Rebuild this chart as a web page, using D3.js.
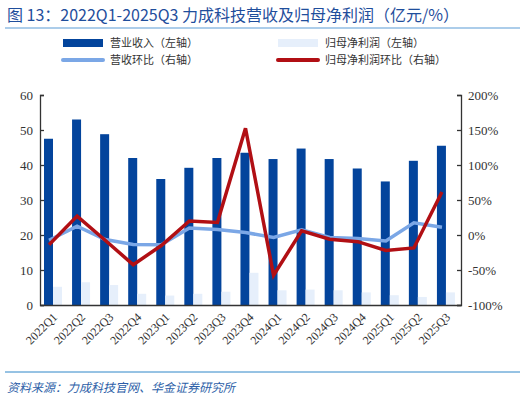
<!DOCTYPE html><html><head><meta charset="utf-8"><script src="https://cdn.jsdelivr.net/npm/d3@7"></script>
<style>body{margin:0;background:#fff}</style></head><body><svg id="c" width="526" height="401"></svg>
<script>
const categories=["2022Q1","2022Q2","2022Q3","2022Q4","2023Q1","2023Q2","2023Q3","2023Q4","2024Q1","2024Q2","2024Q3","2024Q4","2025Q1","2025Q2","2025Q3"];
const revenue=[47.5,53,48.8,42,36,39.2,42,43.5,41.7,44.7,41.7,39,35.3,41.2,45.5];
const profit=[5.2,6.5,5.7,3.2,2.7,3.2,3.8,9.2,4.2,4.4,4.2,3.6,2.8,2.3,3.6];
const revQoQ=[-7.5,12.5,-6.5,-13.5,-14,10,8,3.5,-3.5,7.5,-3.5,-5,-8.5,17.5,11];
const profitQoQ=[-14,27,-7.5,-42.5,-15,20,18,152.5,-57.5,6,-6,-9.5,-22,-18.5,61.5];
const leftTicks=[0,10,20,30,40,50,60];
const rightTicks=[-100,-50,0,50,100,150,200];
const svg=d3.select("#c");
const L=40,R=461,T=95,B=305;
const x=d3.scaleBand().domain(categories).range([L,R]);
const yl=d3.scaleLinear().domain([0,60]).range([B,T]);
const yr=d3.scaleLinear().domain([-100,200]).range([B,T]);
const cn="'Noto Sans CJK SC',sans-serif", serif="'Liberation Serif',serif";
svg.append("text").attr("x",7).attr("y",21).attr("fill","#1f4e9c").attr("font-family",cn).attr("font-size",16).text("图 13：2022Q1-2025Q3 力成科技营收及归母净利润（亿元/%）");
svg.append("line").attr("x1",5).attr("x2",520).attr("y1",28).attr("y2",28).attr("stroke","#5b9bd5").attr("stroke-width",1.2);
svg.append("line").attr("x1",5).attr("x2",520).attr("y1",372).attr("y2",372).attr("stroke","#2e86c8").attr("stroke-width",1);
svg.append("text").attr("x",7).attr("y",392).attr("fill","#2e5fa8").attr("font-family",cn).attr("font-size",12).attr("font-style","italic").text("资料来源：力成科技官网、华金证券研究所");
const lg=[{t:"营业收入（左轴）",c:"#03449c",type:"r",x:63,y:43},{t:"归母净利润（左轴）",c:"#e6effb",type:"r",x:278,y:43},{t:"营收环比（右轴）",c:"#7ba7e6",type:"l",x:63,y:60},{t:"归母净利润环比（右轴）",c:"#b10f14",type:"l",x:278,y:60}];
lg.forEach(d=>{
 if(d.type=="r")svg.append("rect").attr("x",d.x).attr("y",d.y-4).attr("width",40).attr("height",8).attr("fill",d.c);
 else svg.append("line").attr("x1",d.x).attr("x2",d.x+40).attr("y1",d.y).attr("y2",d.y).attr("stroke",d.c).attr("stroke-width",4).attr("stroke-linecap","round");
 svg.append("text").attr("x",d.x+47).attr("y",d.y+4).attr("font-family",cn).attr("font-size",11).attr("fill","#333").text(d.t);
});
const g=svg.append("g");
g.selectAll(".r").data(revenue).join("rect").attr("x",(d,i)=>x(categories[i])+4).attr("width",9).attr("y",d=>yl(d)).attr("height",d=>B-yl(d)).attr("fill","#03449c");
g.selectAll(".p").data(profit).join("rect").attr("x",(d,i)=>x(categories[i])+13).attr("width",9).attr("y",d=>yl(d)).attr("height",d=>B-yl(d)).attr("fill","#e6effb");
const cx=i=>x(categories[i])+x.bandwidth()/2-5;
const line=d3.line().x((d,i)=>cx(i)).y(d=>yr(d));
g.append("path").datum(revQoQ).attr("d",line).attr("fill","none").attr("stroke","#7ba7e6").attr("stroke-width",3.5);
g.append("path").datum(profitQoQ).attr("d",line).attr("fill","none").attr("stroke","#b10f14").attr("stroke-width",3.5);
const ay=svg.append("g").attr("transform",`translate(${L},0)`).call(d3.axisLeft(yl).tickValues(leftTicks).tickSize(-4));
const ar=svg.append("g").attr("transform",`translate(${R},0)`).call(d3.axisRight(yr).tickValues(rightTicks).tickSize(-4).tickFormat(d=>d+"%"));
const ab=svg.append("g").attr("transform",`translate(0,${B})`).call(d3.axisBottom(x).tickSize(0).tickFormat(""));
[ay,ar,ab].forEach(a=>{a.selectAll("path,line").attr("stroke","#333").attr("stroke-width",1.3);a.selectAll("text").attr("font-family",serif).attr("font-size",13).attr("fill","#333");});
ay.selectAll("text").attr("dx",-4);ar.selectAll("text").attr("dx",4);
svg.selectAll(".xl").data(categories).join("text").attr("font-family",serif).attr("font-size",12).attr("fill","#333").attr("text-anchor","end")
 .attr("transform",d=>`translate(${x(d)+x.bandwidth()/2+4},${B+13}) rotate(-45)`).text(d=>d);
</script></body></html>
